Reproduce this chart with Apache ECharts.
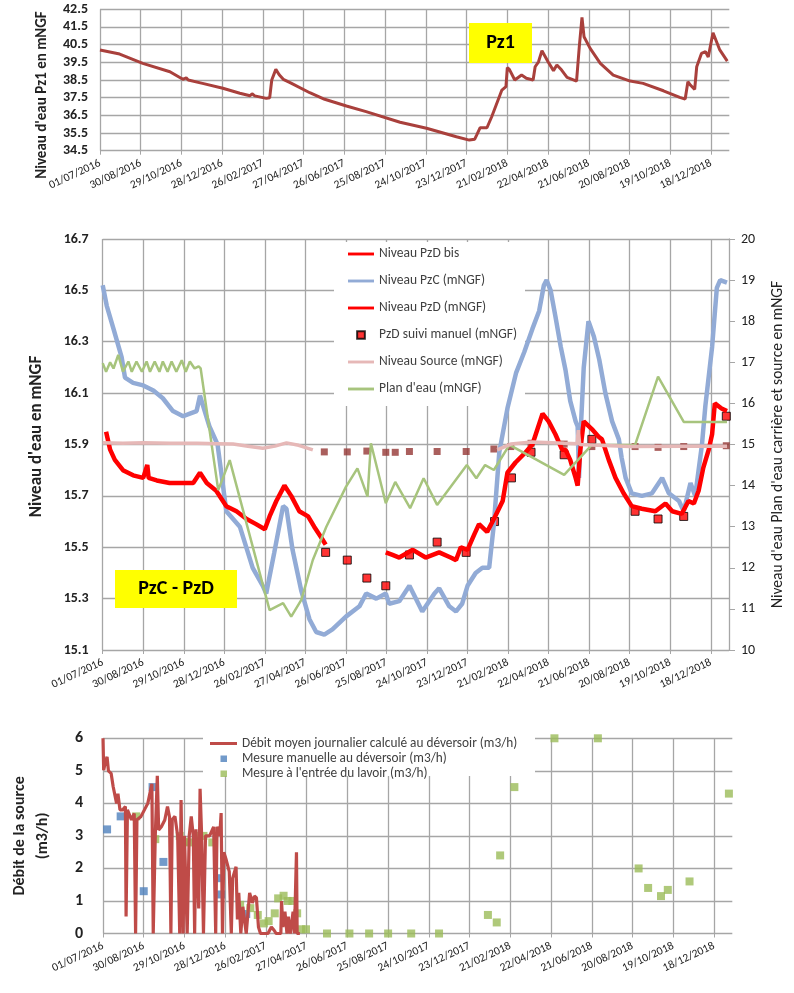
<!DOCTYPE html>
<html><head><meta charset="utf-8">
<script src="https://cdn.jsdelivr.net/npm/echarts@6/dist/echarts.min.js"></script>
<style>html,body{margin:0;padding:0;background:#fff}#c{width:794px;height:993px}</style>
</head><body><div id="c"></div>
<script>
const FONT = "Carlito, Lato, 'Noto Sans', sans-serif";
const dateTickLabels = ['01/07/2016','30/08/2016','29/10/2016','28/12/2016','26/02/2017','27/04/2017','26/06/2017','25/08/2017','24/10/2017','23/12/2017','21/02/2018','22/04/2018','21/06/2018','20/08/2018','19/10/2018','18/12/2018'];

// Top panel: Pz1 level (mNGF)
const pz1Level = [['2016-07-01',40.2],['2016-07-30',39.97],['2016-09-02',39.44],['2016-10-12',38.97],['2016-10-31',38.54],['2016-11-05',38.62],['2016-11-08',38.5],['2016-11-29',38.31],['2016-12-29',38.03],['2017-01-23',37.75],['2017-02-07',37.61],['2017-02-10',37.72],['2017-02-14',37.6],['2017-03-03',37.46],['2017-03-08',37.5],['2017-03-11',38.5],['2017-03-17',39.1],['2017-03-22',38.8],['2017-03-28',38.54],['2017-04-07',38.35],['2017-05-06',37.78],['2017-05-28',37.41],['2017-06-29',37.03],['2017-07-28',36.71],['2017-09-16',36.11],['2017-10-25',35.77],['2017-12-08',35.29],['2017-12-27',35.1],['2018-01-04',35.15],['2018-01-07',35.39],['2018-01-12',35.8],['2018-01-22',35.8],['2018-01-29',36.42],['2018-02-13',37.93],['2018-02-19',38.12],['2018-02-21',39.2],['2018-02-24',39.1],['2018-03-04',38.5],['2018-03-14',38.78],['2018-03-21',38.6],['2018-03-31',38.5],['2018-04-03',39.25],['2018-04-08',39.53],['2018-04-13',40.16],['2018-04-22',39.53],['2018-04-30',39.03],['2018-05-05',39.35],['2018-05-12',39.06],['2018-05-20',38.65],['2018-06-03',38.44],['2018-06-07',40.38],['2018-06-11',42.04],['2018-06-14',40.95],['2018-06-23',40.29],['2018-07-08',39.44],['2018-07-27',38.78],['2018-08-21',38.44],['2018-09-09',38.31],['2018-10-09',37.89],['2018-11-02',37.52],['2018-11-10',37.42],['2018-11-14',38.4],['2018-11-18',38.2],['2018-11-24',37.97],['2018-11-27',39.25],['2018-12-04',40.0],['2018-12-10',40.1],['2018-12-14',39.8],['2018-12-21',41.17],['2018-12-31',40.2],['2019-01-11',39.57]];

// Middle panel (left axis)
const pzcLevel = [['2016-07-01',16.52],['2016-07-07',16.44],['2016-07-17',16.35],['2016-07-29',16.24],['2016-08-03',16.16],['2016-08-15',16.14],['2016-08-30',16.13],['2016-09-14',16.11],['2016-09-28',16.08],['2016-10-13',16.03],['2016-10-28',16.01],['2016-11-07',16.02],['2016-11-17',16.03],['2016-11-22',16.09],['2016-11-29',16.03],['2016-12-06',15.97],['2016-12-18',15.9],['2016-12-31',15.64],['2017-01-20',15.58],['2017-02-08',15.42],['2017-02-23',15.35],['2017-02-28',15.32],['2017-03-12',15.48],['2017-03-25',15.66],['2017-03-30',15.65],['2017-04-08',15.49],['2017-04-21',15.33],['2017-05-03',15.22],['2017-05-13',15.17],['2017-05-25',15.16],['2017-06-06',15.18],['2017-06-26',15.23],['2017-07-16',15.27],['2017-07-26',15.32],['2017-08-10',15.3],['2017-08-24',15.32],['2017-08-29',15.28],['2017-09-13',15.29],['2017-09-28',15.35],['2017-10-17',15.25],['2017-11-04',15.32],['2017-11-11',15.34],['2017-11-26',15.27],['2017-12-06',15.25],['2017-12-15',15.28],['2017-12-23',15.35],['2018-01-04',15.4],['2018-01-14',15.42],['2018-01-24',15.42],['2018-01-31',15.59],['2018-02-08',15.87],['2018-02-20',16.04],['2018-03-05',16.18],['2018-03-17',16.26],['2018-03-21',16.29],['2018-03-29',16.35],['2018-04-08',16.42],['2018-04-15',16.52],['2018-04-19',16.54],['2018-04-25',16.5],['2018-05-02',16.4],['2018-05-10',16.28],['2018-05-17',16.19],['2018-05-24',16.07],['2018-06-01',15.99],['2018-06-04',15.97],['2018-06-06',15.77],['2018-06-09',15.98],['2018-06-13',16.2],['2018-06-20',16.38],['2018-06-28',16.32],['2018-07-06',16.23],['2018-07-15',16.1],['2018-07-25',15.99],['2018-08-04',15.92],['2018-08-08',15.85],['2018-08-14',15.77],['2018-08-23',15.71],['2018-09-07',15.7],['2018-09-22',15.71],['2018-10-07',15.77],['2018-10-17',15.71],['2018-11-01',15.68],['2018-11-08',15.64],['2018-11-18',15.75],['2018-11-25',15.7],['2018-12-05',15.9],['2018-12-10',16.05],['2018-12-20',16.28],['2018-12-27',16.51],['2019-01-01',16.54],['2019-01-11',16.53]];
const pzdLevel = [['2016-07-06',15.95],['2016-07-12',15.88],['2016-07-19',15.84],['2016-07-31',15.8],['2016-08-15',15.78],['2016-08-30',15.77],['2016-09-05',15.82],['2016-09-07',15.77],['2016-09-19',15.76],['2016-10-08',15.75],['2016-10-28',15.75],['2016-11-12',15.75],['2016-11-22',15.79],['2016-12-02',15.75],['2016-12-16',15.72],['2016-12-31',15.66],['2017-01-15',15.64],['2017-01-30',15.61],['2017-02-13',15.59],['2017-02-26',15.57],['2017-03-05',15.62],['2017-03-15',15.68],['2017-03-27',15.74],['2017-04-06',15.7],['2017-04-18',15.64],['2017-05-01',15.62],['2017-05-10',15.58],['2017-05-20',15.54],['2017-05-27',15.51]];
const pzdBisLevel = [['2017-08-24',15.48],['2017-09-03',15.47],['2017-09-13',15.46],['2017-10-03',15.49],['2017-10-22',15.46],['2017-11-11',15.48],['2017-11-28',15.46],['2017-12-06',15.45],['2017-12-13',15.5],['2017-12-23',15.49],['2018-01-02',15.55],['2018-01-09',15.59],['2018-01-21',15.56],['2018-01-31',15.61],['2018-02-13',15.68],['2018-02-20',15.79],['2018-03-04',15.83],['2018-03-19',15.87],['2018-03-29',15.9],['2018-04-03',15.94],['2018-04-13',16.02],['2018-04-22',15.99],['2018-05-02',15.94],['2018-05-12',15.88],['2018-05-17',15.88],['2018-05-24',15.84],['2018-06-01',15.77],['2018-06-04',15.74],['2018-06-08',15.88],['2018-06-13',15.99],['2018-06-25',15.96],['2018-07-05',15.93],['2018-07-10',15.92],['2018-07-20',15.84],['2018-07-30',15.77],['2018-08-11',15.71],['2018-08-23',15.66],['2018-09-07',15.65],['2018-09-27',15.64],['2018-10-12',15.67],['2018-10-22',15.64],['2018-11-05',15.63],['2018-11-15',15.68],['2018-11-23',15.67],['2018-11-30',15.72],['2018-12-07',15.81],['2018-12-15',15.88],['2018-12-20',15.94],['2018-12-24',16.06],['2019-01-03',16.04],['2019-01-11',16.03]];
const pzdManual = [['2017-05-27',15.48],['2017-06-28',15.45],['2017-07-27',15.38],['2017-08-24',15.35],['2017-09-28',15.47],['2017-11-08',15.52],['2017-12-21',15.48],['2018-02-01',15.6],['2018-02-26',15.77],['2018-03-27',15.87],['2018-05-15',15.86],['2018-06-25',15.92],['2018-08-28',15.64],['2018-10-01',15.61],['2018-11-08',15.62],['2019-01-10',16.01]];
// Middle panel (right axis)
const sourceLevel = [['2016-07-01',15.04],['2016-07-31',15.03],['2016-08-30',15.04],['2016-10-09',15.03],['2016-11-18',15.03],['2016-12-18',15.02],['2017-01-10',15.01],['2017-02-01',14.96],['2017-02-23',14.91],['2017-03-13',14.96],['2017-03-30',15.04],['2017-04-17',14.98],['2017-05-08',14.87],['2017-06-01',null],['2018-02-05',14.87],['2018-02-25',15.01],['2018-03-29',15.06],['2018-05-15',15.03],['2018-06-03',15.02],['2018-06-05',15.35],['2018-06-07',15.0],['2018-06-25',14.99],['2018-08-20',14.95],['2018-11-08',14.96],['2019-01-11',14.96]];
const sourceManual = [['2017-05-25',14.82],['2017-06-28',14.82],['2017-07-27',14.84],['2017-08-24',14.81],['2017-09-07',14.81],['2017-09-28',14.83],['2017-11-08',14.83],['2017-12-21',14.83],['2018-01-31',14.89],['2018-02-25',14.95],['2018-03-27',15.03],['2018-05-15',15.01],['2018-06-25',14.95],['2018-08-28',14.95],['2018-10-01',14.93],['2018-11-08',14.95],['2019-01-10',14.97]];
const planEauLevel = [['2016-07-01',16.98],['2016-07-06',16.77],['2016-07-12',17.0],['2016-07-17',16.85],['2016-07-24',17.18],['2016-07-31',16.77],['2016-08-08',17.02],['2016-08-13',16.77],['2016-08-20',17.02],['2016-08-28',16.77],['2016-09-04',17.02],['2016-09-09',16.77],['2016-09-16',17.02],['2016-09-23',16.77],['2016-09-28',17.02],['2016-10-05',16.77],['2016-10-11',17.02],['2016-10-18',16.77],['2016-10-26',17.05],['2016-11-01',16.77],['2016-11-07',17.02],['2016-11-14',16.85],['2016-11-20',16.9],['2016-11-23',16.85],['2016-12-19',13.89],['2017-01-05',14.62],['2017-03-05',10.97],['2017-03-25',11.14],['2017-04-06',10.81],['2017-04-21',11.22],['2017-05-08',12.19],['2017-05-28',13.0],['2017-06-26',13.97],['2017-07-13',14.42],['2017-07-28',13.73],['2017-08-02',15.03],['2017-08-24',13.57],['2017-09-07',14.09],['2017-09-29',13.45],['2017-10-19',14.18],['2017-11-08',13.53],['2017-12-22',14.5],['2018-01-05',14.18],['2018-01-18',14.5],['2018-01-31',14.38],['2018-02-23',14.99],['2018-05-15',14.26],['2018-06-25',14.99],['2018-08-28',14.99],['2018-10-01',16.65],['2018-11-08',15.55],['2019-01-11',15.55]];

// Bottom panel: spring flow (m3/h)
const flowDaily = [['2016-07-01',6.0],['2016-07-02',5.02],['2016-07-04',5.23],['2016-07-07',5.43],['2016-07-09',5.0],['2016-07-13',4.92],['2016-07-16',4.51],['2016-07-21',4.0],['2016-07-23',4.3],['2016-07-26',3.8],['2016-07-30',3.8],['2016-08-03',3.9],['2016-08-04',0.52],['2016-08-06',3.8],['2016-08-12',3.49],['2016-08-16',3.69],['2016-08-18',0],['2016-08-20',3.5],['2016-08-26',3.6],['2016-08-31',3.8],['2016-09-05',4.0],['2016-09-11',4.6],['2016-09-13',0],['2016-09-16',3.0],['2016-09-19',4.85],['2016-09-21',3.18],['2016-09-25',3.28],['2016-09-30',3.49],['2016-10-04',3.9],['2016-10-07',3.58],['2016-10-09',0],['2016-10-11',3.5],['2016-10-15',3.6],['2016-10-19',3.0],['2016-10-22',0],['2016-10-24',4.1],['2016-10-27',0],['2016-10-29',3.0],['2016-11-02',0],['2016-11-05',3.0],['2016-11-08',3.6],['2016-11-11',3.0],['2016-11-13',0],['2016-11-15',3.2],['2016-11-19',0.77],['2016-11-21',4.45],['2016-11-23',3.2],['2016-11-26',0],['2016-11-29',3.0],['2016-12-05',3.0],['2016-12-11',3.28],['2016-12-14',0],['2016-12-16',3.28],['2016-12-20',3.0],['2016-12-22',3.7],['2016-12-24',0],['2016-12-26',2.5],['2016-12-29',2.3],['2017-01-03',1.9],['2017-01-06',0],['2017-01-08',1.7],['2017-01-13',2.05],['2017-01-15',0.43],['2017-01-17',1.25],['2017-01-20',0],['2017-01-23',0.82],['2017-01-28',0],['2017-02-02',1.25],['2017-02-06',0.94],['2017-02-09',1.15],['2017-02-12',1.1],['2017-02-15',0.2],['2017-02-18',0],['2017-03-01',0],['2017-03-06',0.2],['2017-03-10',0.1],['2017-03-13',0],['2017-03-20',0],['2017-03-21',1.0],['2017-03-23',0.2],['2017-03-26',0.67],['2017-03-29',0],['2017-03-31',0.52],['2017-04-03',0],['2017-04-07',0.67],['2017-04-09',0],['2017-04-12',2.5],['2017-04-13',0],['2017-04-17',0]];
const flowManual = [['2016-07-07',3.2],['2016-07-27',3.6],['2016-08-30',1.3],['2016-09-12',4.5],['2016-09-28',2.2],['2016-12-20',1.7],['2016-12-22',1.2],['2017-01-28',0.6]];
const flowLavoir = [['2016-08-19',3.6],['2016-09-16',2.9],['2016-10-22',3.0],['2016-10-28',2.82],['2016-11-06',2.8],['2016-11-19',3.0],['2016-11-26',3.0],['2016-12-09',2.8],['2017-01-19',0.88],['2017-02-03',0.78],['2017-02-14',0.57],['2017-02-23',0.31],['2017-03-02',0.38],['2017-03-11',0.62],['2017-03-16',1.08],['2017-03-24',1.16],['2017-03-30',1.0],['2017-04-06',1.0],['2017-04-13',0.62],['2017-04-19',0.13],['2017-04-26',0.13],['2017-05-27',0],['2017-06-29',0],['2017-07-28',0],['2017-08-25',0],['2017-09-28',0],['2017-11-08',0],['2018-01-19',0.57],['2018-02-01',0.34],['2018-02-06',2.4],['2018-02-27',4.5],['2018-04-27',6.0],['2018-06-30',6.0],['2018-08-29',2.0],['2018-09-12',1.4],['2018-10-01',1.15],['2018-10-11',1.34],['2018-11-12',1.6],['2019-01-09',4.3]];

const origin = Date.UTC(2016, 6, 1);
const toDay = s => (Date.parse(s) - origin) / 864e5;
const conv = arr => arr.map(p => [toDay(p[0]), p[1]]);

const GRID = '#a6a6a6';
const SQ = 'path://M0,0M27,8M9.5,0h8v8h-8z';
const SQS = 'path://M0,0M27,8M10.5,1h6.5v6.5h-6.5z';
const LN = 'path://M0,0M27,8M0,2.5h27v3h-27z';

function xAx(gi) {
  return {
    type: 'value', gridIndex: gi, min: 0, max: 927, interval: 60,
    axisLine: { show: false },
    axisTick: { show: true, length: 4, lineStyle: { color: GRID } },
    splitLine: { show: true, showMaxLine: false, lineStyle: { color: GRID, width: 1.3 } },
    axisLabel: {
      rotate: 25, margin: 12, fontSize: 11.5, color: '#222', fontFamily: FONT, showMaxLabel: false,
      formatter: v => (v % 60 === 0 && v / 60 < dateTickLabels.length) ? dateTickLabels[v / 60] : ''
    }
  };
}

const chart = echarts.init(document.getElementById('c'), null, { renderer: 'canvas' });
chart.setOption({
  animation: false,
  textStyle: { fontFamily: FONT },
  grid: [
    { left: 100, right: 64.7, top: 9.3, height: 141.4 },
    { left: 102.7, right: 63.3, top: 239, height: 411 },
    { left: 101.7, right: 61.7, top: 738.3, height: 195.2 }
  ],
  xAxis: [xAx(0), xAx(1), xAx(2)],
  yAxis: [
    { type: 'value', gridIndex: 0, min: 34.5, max: 42.5, interval: 1,
      axisLine: { show: false }, axisTick: { show: false },
      splitLine: { lineStyle: { color: GRID, width: 1.3 } },
      axisLabel: { fontWeight: 'bold', fontSize: 14, color: '#222', margin: 12, formatter: v => v.toFixed(1) },
      name: "Niveau d'eau Pz1 en mNGF", nameLocation: 'middle', nameGap: 50,
      nameTextStyle: { fontWeight: 'bold', fontSize: 15, color: '#222', padding: [0, 30, 0, 0] } },
    { type: 'value', gridIndex: 1, min: 15.1, max: 16.7, interval: 0.2,
      axisLine: { show: false }, axisTick: { show: false },
      splitLine: { lineStyle: { color: GRID, width: 1.3 } },
      axisLabel: { fontWeight: 'bold', fontSize: 14, color: '#222', margin: 14, formatter: v => v.toFixed(1) },
      name: "Niveau d'eau en mNGF", nameLocation: 'middle', nameGap: 57,
      nameTextStyle: { fontWeight: 'bold', fontSize: 17, color: '#222', padding: [0, 0, 0, 16] } },
    { type: 'value', gridIndex: 1, position: 'right', min: 10, max: 20, interval: 1,
      axisLine: { show: true, lineStyle: { color: GRID, width: 1.3 } },
      axisTick: { show: true, length: 6, lineStyle: { color: GRID } },
      splitLine: { show: false },
      axisLabel: { fontSize: 14, color: '#222', margin: 12 },
      name: "Niveau d'eau Plan d'eau carrière et source en mNGF", nameLocation: 'middle', nameGap: 41,
      nameTextStyle: { fontSize: 15.5, color: '#222' } },
    { type: 'value', gridIndex: 2, min: 0, max: 6, interval: 1,
      axisLine: { show: false }, axisTick: { show: false },
      splitLine: { lineStyle: { color: GRID, width: 1.3 } },
      axisLabel: { fontWeight: 'bold', fontSize: 16, color: '#222', margin: 20 },
      name: 'Débit de la source\n(m3/h)', nameLocation: 'middle', nameGap: 49,
      nameTextStyle: { fontWeight: 'bold', fontSize: 16, lineHeight: 23, color: '#222' } }
  ],
  legend: [
    { orient: 'vertical', left: 342, top: 241, itemWidth: 26, itemHeight: 8, itemGap: 11,
      selectedMode: false,
      textStyle: { fontSize: 13.5, lineHeight: 16, color: '#404040', fontFamily: FONT },
      data: [
        { name: 'Niveau PzD bis', icon: LN },
        { name: 'Niveau PzC (mNGF)', icon: LN },
        { name: 'Niveau PzD (mNGF)', icon: LN },
        { name: 'PzD suivi manuel (mNGF)', icon: SQ },
        { name: 'Niveau Source (mNGF)', icon: LN },
        { name: "Plan d'eau (mNGF)", icon: LN }
      ] },
    { orient: 'vertical', left: 205, top: 732, itemWidth: 27, itemHeight: 8, itemGap: 2,
      selectedMode: false,
      textStyle: { fontSize: 13.3, lineHeight: 13, color: '#404040', fontFamily: FONT },
      data: [
        { name: 'Débit moyen journalier calculé au déversoir (m3/h)', icon: LN },
        { name: 'Mesure manuelle au déversoir (m3/h)', icon: SQS },
        { name: "Mesure à l'entrée du lavoir (m3/h)", icon: SQS }
      ] }
  ],
  graphic: [
    { type: 'rect', z: 3, shape: { x: 334, y: 242, width: 191, height: 164 }, style: { fill: '#fff' } },
    { type: 'rect', z: 3, shape: { x: 203, y: 729, width: 332, height: 47 }, style: { fill: '#fff' } },
    { type: 'rect', z: 5, shape: { x: 469, y: 23, width: 63, height: 40 }, style: { fill: '#ffff00' } },
    { type: 'text', z: 6, style: { x: 500.5, y: 43, text: 'Pz1', textAlign: 'center', textVerticalAlign: 'middle', font: 'bold 20px ' + FONT, fill: '#000' } },
    { type: 'rect', z: 5, shape: { x: 115, y: 570, width: 122, height: 38 }, style: { fill: '#ffff00' } },
    { type: 'text', z: 6, style: { x: 176, y: 589, text: 'PzC - PzD', textAlign: 'center', textVerticalAlign: 'middle', font: 'bold 20px ' + FONT, fill: '#000' } }
  ],
  series: [
    { name: 'Pz1', type: 'line', xAxisIndex: 0, yAxisIndex: 0, symbol: 'none', data: conv(pz1Level),
      lineStyle: { color: '#A9403C', width: 3 }, itemStyle: { color: '#A9403C' } },
    { name: 'Niveau PzC (mNGF)', type: 'line', xAxisIndex: 1, yAxisIndex: 1, symbol: 'none', data: conv(pzcLevel),
      lineStyle: { color: '#92ABD6', width: 4.5 }, itemStyle: { color: '#92ABD6' } },
    { name: 'Niveau PzD (mNGF)', type: 'line', xAxisIndex: 1, yAxisIndex: 1, symbol: 'none', data: conv(pzdLevel),
      lineStyle: { color: '#ff0000', width: 4.5 }, itemStyle: { color: '#ff0000' } },
    { name: 'Niveau PzD bis', type: 'line', xAxisIndex: 1, yAxisIndex: 1, symbol: 'none', data: conv(pzdBisLevel),
      lineStyle: { color: '#ff0000', width: 4.5 }, itemStyle: { color: '#ff0000' } },
    { name: "Plan d'eau (mNGF)", type: 'line', xAxisIndex: 1, yAxisIndex: 2, symbol: 'none', data: conv(planEauLevel),
      lineStyle: { color: '#A7C47D', width: 2.5 }, itemStyle: { color: '#A7C47D' } },
    { name: 'Niveau Source (mNGF)', type: 'line', xAxisIndex: 1, yAxisIndex: 2, symbol: 'none', data: conv(sourceLevel),
      lineStyle: { color: '#E6B8B7', width: 3.5 }, itemStyle: { color: '#E6B8B7' } },
    { name: 'Source suivi manuel', type: 'scatter', xAxisIndex: 1, yAxisIndex: 2, symbol: 'rect', symbolSize: 7,
      data: conv(sourceManual), itemStyle: { color: '#953735' } },
    { name: 'PzD suivi manuel (mNGF)', type: 'scatter', xAxisIndex: 1, yAxisIndex: 1, symbol: 'rect', symbolSize: 8,
      data: conv(pzdManual), itemStyle: { color: '#ff0000', borderColor: '#000', borderWidth: 1 } },
    { name: 'Débit moyen journalier calculé au déversoir (m3/h)', type: 'line', xAxisIndex: 2, yAxisIndex: 3, symbol: 'none',
      data: conv(flowDaily), lineStyle: { color: '#BF4B48', width: 3.2 }, itemStyle: { color: '#BF4B48' } },
    { name: 'Mesure manuelle au déversoir (m3/h)', type: 'scatter', xAxisIndex: 2, yAxisIndex: 3, symbol: 'rect', symbolSize: 8,
      data: conv(flowManual), itemStyle: { color: '#4F81BD' } },
    { name: "Mesure à l'entrée du lavoir (m3/h)", type: 'scatter', xAxisIndex: 2, yAxisIndex: 3, symbol: 'rect', symbolSize: 8,
      data: conv(flowLavoir), itemStyle: { color: '#9BBB59' } }
  ]
});
</script>
</body></html>
